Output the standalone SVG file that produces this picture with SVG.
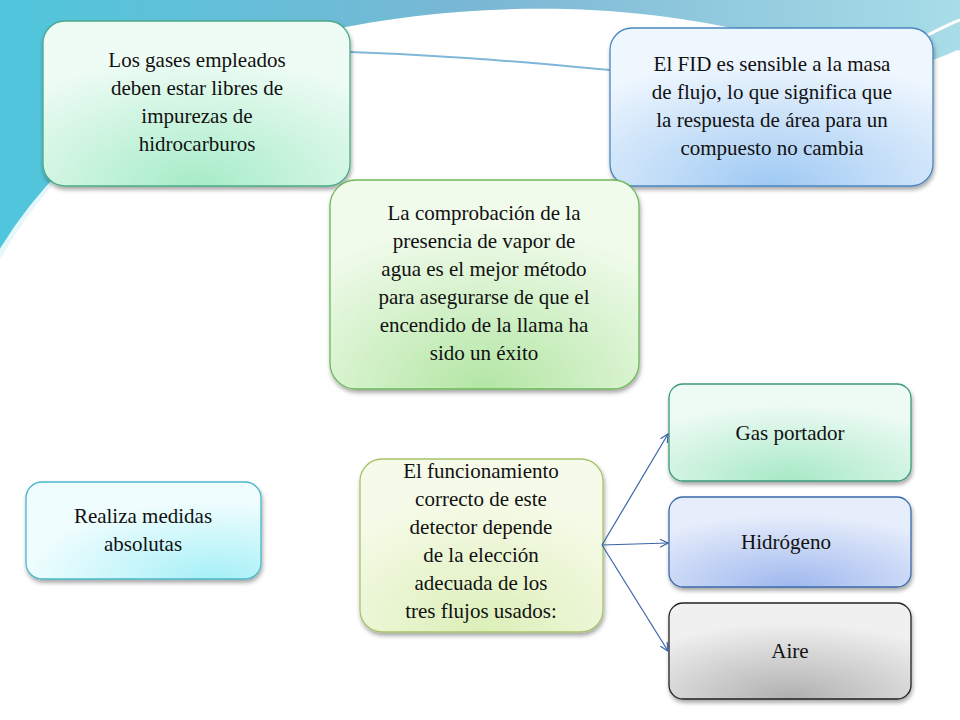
<svg xmlns="http://www.w3.org/2000/svg" width="960" height="720" viewBox="0 0 960 720">
<defs>
<style>
text{font-family:'Liberation Serif','DejaVu Serif',serif;font-size:21px;fill:#111;text-anchor:middle}
.n{stroke-width:1.3}
.c{stroke:#3a64a8;stroke-width:1.2;fill:none;marker-end:url(#a)}
</style>
<filter id="sh" x="-10%" y="-10%" width="120%" height="125%"><feDropShadow dx="1" dy="3" stdDeviation="2" flood-opacity="0.35"/></filter>
<marker id="a" markerWidth="10" markerHeight="10" refX="9" refY="5" orient="auto" markerUnits="userSpaceOnUse"><path d="M1,1 L9,5 L1,9" fill="none" stroke="#3a64a8" stroke-width="1.2"/></marker>
<radialGradient id="g1" cx="50%" cy="100%" r="80%"><stop offset="0" stop-color="#a6ecc8"/><stop offset="1" stop-color="#effcf5"/></radialGradient>
<radialGradient id="g2" cx="50%" cy="100%" r="80%"><stop offset="0" stop-color="#9fc9f3"/><stop offset="1" stop-color="#eef6fe"/></radialGradient>
<radialGradient id="g3" cx="50%" cy="100%" r="80%"><stop offset="0" stop-color="#b3e6a4"/><stop offset="1" stop-color="#f1fbec"/></radialGradient>
<radialGradient id="g4" cx="80%" cy="100%" r="80%"><stop offset="0" stop-color="#a6f0f7"/><stop offset="1" stop-color="#effdfe"/></radialGradient>
<radialGradient id="g5" cx="50%" cy="100%" r="80%"><stop offset="0" stop-color="#dcefb8"/><stop offset="1" stop-color="#f6fbe9"/></radialGradient>
<radialGradient id="g6" cx="50%" cy="100%" r="80%"><stop offset="0" stop-color="#a6e9c6"/><stop offset="1" stop-color="#eefbf4"/></radialGradient>
<radialGradient id="g7" cx="50%" cy="100%" r="80%"><stop offset="0" stop-color="#9fb8ee"/><stop offset="1" stop-color="#e6edfb"/></radialGradient>
<radialGradient id="g8" cx="50%" cy="100%" r="80%"><stop offset="0" stop-color="#b0b0b0"/><stop offset="1" stop-color="#f0f0f0"/></radialGradient>
<linearGradient id="bg" x1="0" y1="0" x2="1" y2="0"><stop offset="0" stop-color="#4fc6dc"/><stop offset="0.5" stop-color="#7ab7d4"/><stop offset="1" stop-color="#a8dde8"/></linearGradient>
</defs>
<rect width="960" height="720" fill="#ffffff"/>
<path d="M0,0 H960 V50 C900,80 840,60 780,40 C620,-5 450,5 330,30 C200,60 80,120 0,260 Z" fill="url(#bg)"/>
<path d="M0,260 C80,125 200,68 330,40 C450,14 620,5 770,48 C850,72 900,85 960,55" fill="none" stroke="#ffffff" stroke-width="12" opacity="0.85"/>
<path d="M350,52 C450,55 520,62 610,70" fill="none" stroke="#7fb7d8" stroke-width="2"/>
<path d="M880,60 C910,45 935,30 960,20" fill="none" stroke="#ffffff" stroke-width="3"/>
<g id="n1"><rect class="n" x="43" y="21" width="307" height="165" rx="22" fill="url(#g1)" stroke="#4aaa88" filter="url(#sh)"/>
<text x="197" y="67">Los gases empleados</text><text x="197" y="95">deben estar  libres de</text><text x="197" y="123">impurezas de</text><text x="197" y="151">hidrocarburos</text></g>
<g id="n2"><rect class="n" x="610" y="28" width="323" height="158" rx="22" fill="url(#g2)" stroke="#4a86c0" filter="url(#sh)"/>
<text x="772" y="71">El FID es sensible a la masa</text><text x="772" y="99">de flujo, lo que significa que</text><text x="772" y="127">la respuesta de área para un</text><text x="772" y="155">compuesto no cambia</text></g>
<g id="n3"><rect class="n" x="330" y="180" width="309" height="209" rx="26" fill="url(#g3)" stroke="#6cb85a" filter="url(#sh)"/>
<text x="484" y="220">La comprobación de la</text><text x="484" y="248">presencia de vapor de</text><text x="484" y="276">agua es el mejor método</text><text x="484" y="304">para asegurarse de que el</text><text x="484" y="332">encendido de la llama ha</text><text x="484" y="360">sido un éxito</text></g>
<g id="n4"><rect class="n" x="26" y="482" width="235" height="97" rx="16" fill="url(#g4)" stroke="#4ab8c8" filter="url(#sh)"/>
<text x="143" y="523">Realiza medidas</text><text x="143" y="551">absolutas</text></g>
<g id="n5"><rect class="n" x="360" y="459" width="243" height="173" rx="22" fill="url(#g5)" stroke="#a6c46c" filter="url(#sh)"/>
<text x="481" y="478">El funcionamiento</text><text x="481" y="506">correcto de este</text><text x="481" y="534">detector depende</text><text x="481" y="562">de la elección</text><text x="481" y="590">adecuada de los</text><text x="481" y="618">tres flujos usados:</text></g>
<g id="n6"><rect class="n" x="669" y="384" width="242" height="97" rx="14" fill="url(#g6)" stroke="#3a9a7a" filter="url(#sh)"/>
<text x="790" y="440">Gas portador</text></g>
<g id="n7"><rect class="n" x="669" y="497" width="242" height="90" rx="14" fill="url(#g7)" stroke="#3a6aa8" filter="url(#sh)"/>
<text x="786" y="549">Hidrógeno</text></g>
<g id="n8"><rect class="n" x="669" y="603" width="242" height="96" rx="14" fill="url(#g8)" stroke="#222" filter="url(#sh)"/>
<text x="790" y="658">Aire</text></g>
<g id="connectors">
<path class="c" d="M602,545 L668,434"/>
<path class="c" d="M602,545 L668,543"/>
<path class="c" d="M602,545 L668,651"/>
</g>
</svg>
